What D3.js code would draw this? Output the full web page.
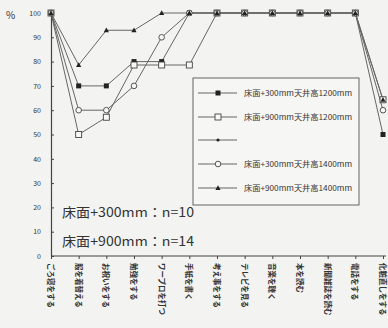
<!DOCTYPE html>
<html><head><meta charset="utf-8">
<script src="https://cdn.jsdelivr.net/npm/d3@7"></script>
<style>
html,body{margin:0;padding:0;background:#f3f3f1;}
svg{display:block;}
text{font-family:"Noto Sans CJK JP","Noto Sans",sans-serif;}
</style></head>
<body>
<script>
const categories = ["ごろ寝をする","服を着替える","お祝いをする","勉強をする","ワープロを打つ","手紙を書く","考え事をする","テレビを見る","音楽を聴く","本を読む","新聞雑誌を読む","電話をする","化粧直しをする"];
const seriesNames = ["床面+300mm天井高1200mm","床面+900mm天井高1200mm","","床面+300mm天井高1400mm","床面+900mm天井高1400mm"];
const s300_1200 = [100,70,70,80,80,100,100,100,100,100,100,100,50];
const s900_1200 = [100,50,57.1,78.6,78.6,78.6,100,100,100,100,100,100,64.3];
const sBlank = [];
const s300_1400 = [100,60,60,70,90,100,100,100,100,100,100,100,60];
const s900_1400 = [100,78.6,92.9,92.9,100,100,100,100,100,100,100,100,64.3];
const yTicks = [0,10,20,30,40,50,60,70,80,90,100];
const notes = ["床面+300mm：n=10","床面+900mm：n=14"];

const series = [s300_1200, s900_1200, sBlank, s300_1400, s900_1400];
const markers = ["fsquare","osquare","dot","ocircle","triangle"];

const W=388,H=328;
const svg=d3.select("body").append("svg").attr("width",W).attr("height",H);
svg.append("rect").attr("width",W).attr("height",H).attr("fill","#f3f3f1");

const x=d3.scalePoint().domain(categories).range([51,383]);
const y=d3.scaleLinear().domain([0,100]).range([256,13]);

// axes
const ya=svg.append("g").attr("transform","translate(51,0)")
  .call(d3.axisLeft(y).tickValues(yTicks).tickSizeInner(-3).tickSizeOuter(0).tickPadding(10));
ya.select(".domain").attr("stroke","#444").attr("stroke-width",1.2);
ya.selectAll(".tick line").attr("stroke","#444");
ya.selectAll(".tick text").attr("font-size",7).attr("fill","#333").attr("font-family","DejaVu Sans");

const xa=svg.append("g").attr("transform","translate(0,256)")
  .call(d3.axisBottom(x).tickSizeInner(3).tickSizeOuter(0).tickFormat(""));
xa.select(".domain").attr("d","M51,0H386").attr("stroke","#444").attr("stroke-width",1.2);
xa.selectAll(".tick line").attr("stroke","#444");

svg.append("text").attr("x",6).attr("y",19).attr("font-size",10).attr("fill","#333").text("%");

// category labels
svg.append("g").selectAll("text").data(categories).join("text")
  .attr("transform",d=>`translate(${x(d)-3},263) rotate(90)`)
  .attr("font-size",7.5).attr("font-weight","bold").attr("fill","#333")
  .text(d=>d);

// lines
const line=d3.line().x((d,i)=>x(categories[i])).y(d=>y(d));
series.forEach((s,k)=>{
  if(!s.length) return;
  svg.append("path").datum(s).attr("d",line).attr("fill","none")
    .attr("stroke","#666").attr("stroke-width",1);
});

function drawMarker(g,type,cx,cy){
  if(type==="fsquare") g.append("rect").attr("x",cx-2.5).attr("y",cy-2.5).attr("width",5).attr("height",5).attr("fill","#222");
  else if(type==="osquare") g.append("rect").attr("x",cx-3).attr("y",cy-3).attr("width",6).attr("height",6).attr("fill","#f8f8f6").attr("stroke","#444").attr("stroke-width",0.9);
  else if(type==="ocircle") g.append("circle").attr("cx",cx).attr("cy",cy).attr("r",2.8).attr("fill","#f8f8f6").attr("stroke","#444").attr("stroke-width",0.9);
  else if(type==="triangle") g.append("path").attr("d",`M${cx},${cy-2.8}L${cx+2.6},${cy+2}L${cx-2.6},${cy+2}Z`).attr("fill","#222");
  else if(type==="dot") g.append("circle").attr("cx",cx).attr("cy",cy).attr("r",1.6).attr("fill","#222");
}
const mg=svg.append("g");
series.forEach((s,k)=>{
  s.forEach((v,i)=>drawMarker(mg,markers[k],x(categories[i]),y(v)));
});

// legend
const lg=svg.append("g");
lg.append("rect").attr("x",193).attr("y",78).attr("width",166).attr("height",127)
  .attr("fill","#f6f6f4").attr("stroke","#555").attr("stroke-width",0.9);
const ly=[93,117,140,164,188];
seriesNames.forEach((n,k)=>{
  lg.append("line").attr("x1",198).attr("x2",237).attr("y1",ly[k]).attr("y2",ly[k]).attr("stroke","#666");
  drawMarker(lg,markers[k],218,ly[k]);
  if(n) lg.append("text").attr("x",244).attr("y",ly[k]+2.5).attr("font-size",7.5)
    .attr("fill","#333").attr("textLength",108).attr("lengthAdjust","spacingAndGlyphs").text(n);
});

// notes
svg.append("g").selectAll("text").data(notes).join("text")
  .attr("x",62).attr("y",(d,i)=>217+i*29).attr("font-size",13).attr("fill","#333")
  .attr("textLength",132).attr("lengthAdjust","spacingAndGlyphs").text(d=>d);
</script>
</body></html>
